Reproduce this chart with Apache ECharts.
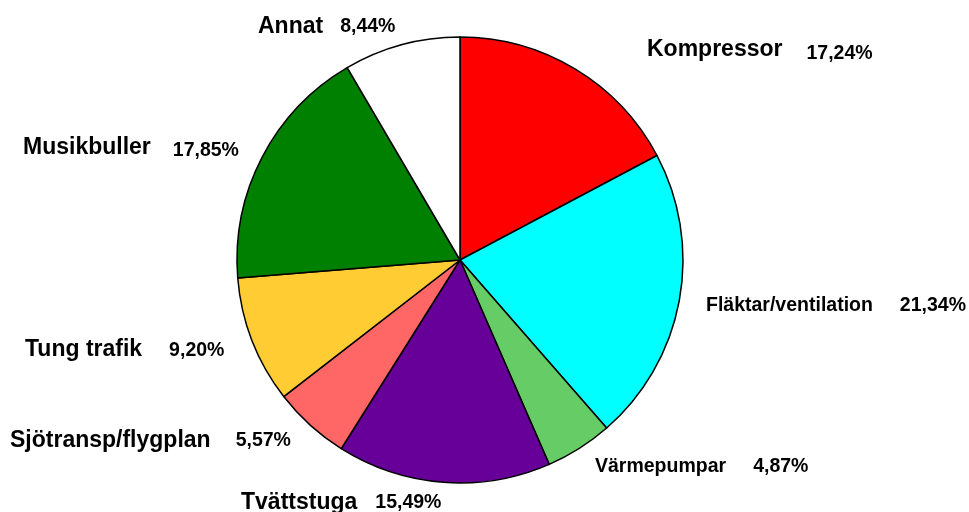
<!DOCTYPE html>
<html>
<head>
<meta charset="utf-8">
<script src="https://cdn.jsdelivr.net/npm/echarts@6/dist/echarts.min.js"></script>
<style>
html, body { margin: 0; padding: 0; background: #fff; }
#chart { width: 969px; height: 512px; }
</style>
</head>
<body>
<div id="chart"></div>
<script>
// data
const categories = ['Kompressor', 'Fläktar/ventilation', 'Värmepumpar', 'Tvättstuga',
    'Sjötransp/flygplan', 'Tung trafik', 'Musikbuller', 'Annat'];
const shares = [17.24, 21.34, 4.87, 15.49, 5.57, 9.20, 17.85, 8.44];
const colors = ['#ff0000', '#00ffff', '#66cc66', '#660099', '#ff6666', '#ffcc33', '#008000', '#ffffff'];

// label placement (left x, middle y of the name), gap to value, name size, value drop
const labelX = [647, 706, 595, 241, 10, 25, 23, 258];
const labelY = [50, 306, 467, 503, 441, 350, 148, 27];
const gaps = [24, 27, 27, 18, 25, 27, 22, 17];
const nameSize = [23, 19.5, 19.5, 23, 23, 23, 23, 23];
const valueDrop = [4, 0, 0, 0, 0, 1, 3, 0];

const font = 'Liberation Sans, Arial, sans-serif';

const chart = echarts.init(document.getElementById('chart'));

const data = categories.map((name, i) => ({
    name: name,
    value: shares[i],
    itemStyle: { color: colors[i] },
    label: {
        rich: {
            n: { fontSize: nameSize[i], fontWeight: 'bold', fontFamily: font, color: '#000', lineHeight: nameSize[i] },
            v: { fontSize: 19.5, fontWeight: 'bold', fontFamily: font, color: '#000', lineHeight: 19.5,
                 padding: [valueDrop[i] * 2, 0, 0, gaps[i]] }
        }
    }
}));

chart.setOption({
    animation: false,
    backgroundColor: '#fff',
    series: [{
        type: 'pie',
        center: [460, 260],
        radius: 223,
        startAngle: 90,
        clockwise: true,
        avoidLabelOverlap: false,
        itemStyle: { borderColor: '#000', borderWidth: 1.5 },
        label: {
            show: true,
            position: 'outside',
            overflow: 'none',
            width: 400,
            edgeDistance: 0,
            bleedMargin: 0,
            formatter: p => '{n|' + p.name + '}{v|' + p.value.toFixed(2).replace('.', ',') + '%}'
        },
        labelLine: { show: false },
        labelLayout: p => ({
            x: labelX[p.dataIndex],
            y: labelY[p.dataIndex],
            align: 'left',
            verticalAlign: 'middle'
        }),
        emphasis: { disabled: true },
        data: data
    }]
});
</script>
</body>
</html>
